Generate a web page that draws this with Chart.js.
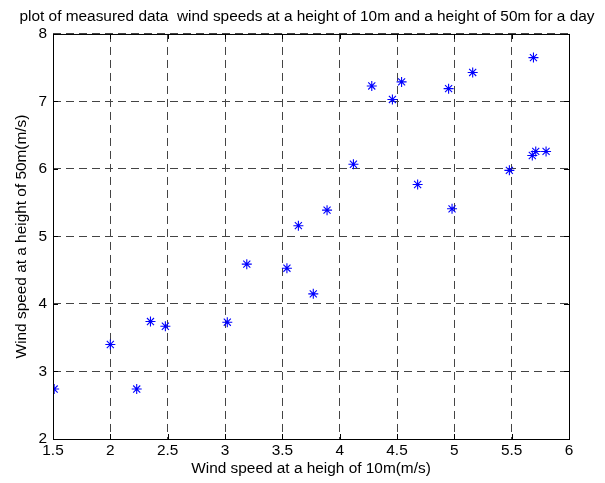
<!DOCTYPE html>
<html>
<head>
<meta charset="utf-8">
<script src="https://cdn.jsdelivr.net/npm/chart.js@4"></script>
<style>
  html, body { margin: 0; padding: 0; background: #fff; }
  #wrap { width: 605px; height: 483px; }
</style>
</head>
<body>
<div id="wrap"><canvas id="windChart" width="605" height="483"></canvas></div>
<script>
// measured wind speeds (m/s)
const speed10m = [1.51, 2.00, 2.23, 2.35, 2.48, 3.02, 3.19, 3.54, 3.77, 3.64, 3.89, 4.12,
                  4.28, 4.46, 4.54, 4.68, 4.95, 4.98, 5.16, 5.48, 5.68, 5.71, 5.69, 5.80];
const speed50m = [2.74, 3.40, 2.74, 3.74, 3.67, 3.73, 4.59, 4.53, 4.15, 5.16, 5.39, 6.07,
                  7.23, 7.03, 7.29, 5.77, 7.19, 5.41, 7.43, 5.98, 6.20, 6.26, 7.65, 6.26];
const xTicks = [1.5, 2, 2.5, 3, 3.5, 4, 4.5, 5, 5.5, 6];
const yTicks = [2, 3, 4, 5, 6, 7, 8];

const points = speed10m.map((x, i) => ({ x: x, y: speed50m[i] }));
const font = { family: 'Arial, "Liberation Sans", sans-serif', size: 15.4, weight: 'normal' };

// black box round the plot with small inward ticks, like the original figure
const boxPlugin = {
  id: 'box',
  afterDraw(chart) {
    const { ctx, chartArea: a, scales } = chart;
    ctx.save();
    ctx.strokeStyle = '#000';
    ctx.lineWidth = 1;
    ctx.setLineDash([]);
    ctx.strokeRect(a.left + 0.5, a.top + 0.5, a.right - a.left, a.bottom - a.top);
    ctx.beginPath();
    xTicks.forEach(v => {
      const px = Math.round(scales.x.getPixelForValue(v)) + 0.5;
      ctx.moveTo(px, a.bottom); ctx.lineTo(px, a.bottom - 5);
      ctx.moveTo(px, a.top); ctx.lineTo(px, a.top + 5);
    });
    yTicks.forEach(v => {
      const py = Math.round(scales.y.getPixelForValue(v)) + 0.5;
      ctx.moveTo(a.left, py); ctx.lineTo(a.left + 5, py);
      ctx.moveTo(a.right, py); ctx.lineTo(a.right - 5, py);
    });
    ctx.stroke();
    ctx.restore();
  }
};

new Chart(document.getElementById('windChart'), {
  type: 'scatter',
  data: {
    datasets: [{
      data: points,
      pointStyle: 'star',
      radius: 5,
      hoverRadius: 5,
      borderColor: '#0000ff',
      backgroundColor: '#0000ff',
      borderWidth: 1.1
    }]
  },
  options: {
    responsive: false,
    animation: false,
    layout: { padding: { left: 9, right: 0, top: 0, bottom: 0 } },
    plugins: {
      legend: { display: false },
      tooltip: { enabled: false },
      title: {
        display: true,
        text: 'plot of measured data  wind speeds at a height of 10m and a height of 50m for a day',
        color: '#000',
        font: font,
        padding: { top: 8, bottom: 7.5 }
      }
    },
    scales: {
      x: {
        type: 'linear',
        min: 1.5,
        max: 6,
        afterFit(scale) { scale.height = 44; },
        afterBuildTicks(scale) { scale.ticks = xTicks.map(v => ({ value: v })); },
        ticks: { color: '#000', font: font, padding: 3, maxRotation: 0, callback: v => String(v) },
        grid: { color: '#444', drawTicks: false },
        border: { display: false, dash: [8, 5] },
        title: {
          display: true,
          text: 'Wind speed at a heigh of 10m(m/s)',
          color: '#000',
          font: font,
          padding: { top: 0, bottom: 5 }
        }
      },
      y: {
        type: 'linear',
        min: 2,
        max: 8,
        afterFit(scale) { scale.width = 44; },
        afterBuildTicks(scale) { scale.ticks = yTicks.map(v => ({ value: v })); },
        ticks: { color: '#000', font: font, padding: 6, callback: v => String(v) },
        grid: { color: '#444', drawTicks: false },
        border: { display: false, dash: [8, 5] },
        title: {
          display: true,
          text: 'Wind speed at a height of 50m(m/s)',
          color: '#000',
          font: font,
          padding: { top: 3.5, bottom: 0 }
        }
      },
      // empty right-hand axis, only reserves the white margin right of the box
      yRight: {
        type: 'linear',
        position: 'right',
        min: 2,
        max: 8,
        afterFit(scale) { scale.width = 36; },
        ticks: { display: false },
        grid: { display: false },
        border: { display: false }
      }
    }
  },
  plugins: [boxPlugin]
});
</script>
</body>
</html>
